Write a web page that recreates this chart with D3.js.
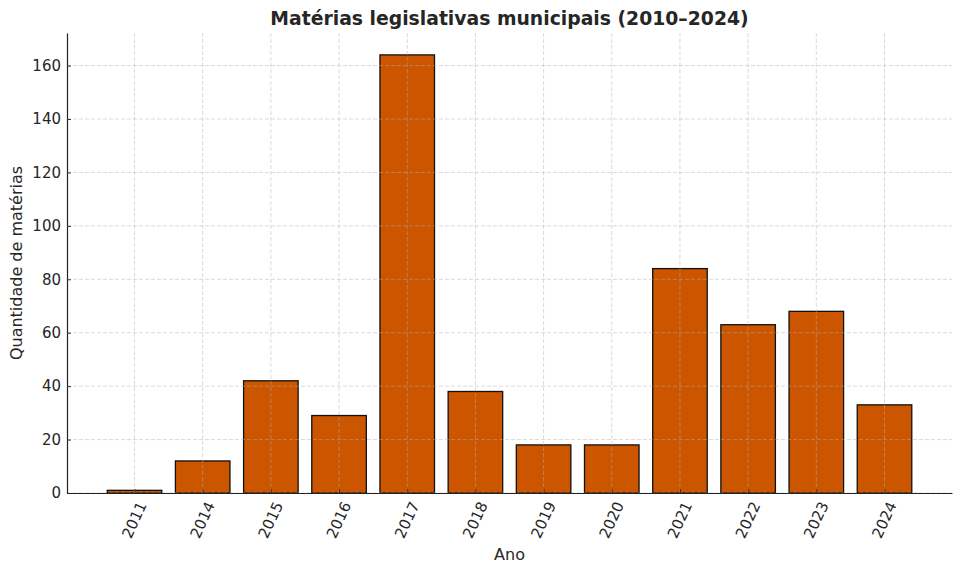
<!DOCTYPE html>
<html>
<head>
<meta charset="utf-8">
<script src="https://cdn.jsdelivr.net/npm/d3@7"></script>
<style>
  body { margin: 0; background: #fff; }
  text { font-family: "DejaVu Sans", sans-serif; fill: #262626; }
</style>
</head>
<body>
<svg id="chart" width="961" height="573"></svg>
<script>
// data
const anos = ['2011', '2014', '2015', '2016', '2017', '2018', '2019', '2020', '2021', '2022', '2023', '2024'];
const quantidades = [1, 12, 42, 29, 164, 38, 18, 18, 84, 63, 68, 33];
const yTicks = [0, 20, 40, 60, 80, 100, 120, 140, 160];

const W = 961, H = 573;
const m = {left: 67, right: 9, top: 33, bottom: 80};
const iw = W - m.left - m.right, ih = H - m.top - m.bottom;

const svg = d3.select('#chart');
const g = svg.append('g').attr('transform', `translate(${m.left},${m.top})`);

// matplotlib-ish: positions by index, 5% margins
const x = d3.scaleLinear().domain([-0.99, anos.length - 1 + 0.99]).range([0, iw]);
const y = d3.scaleLinear().domain([0, 172.2]).range([ih, 0]);
const bw = x(0.8) - x(0);

g.selectAll('rect.bar')
  .data(quantidades)
  .join('rect')
  .attr('class', 'bar')
  .attr('x', (d, i) => x(i) - bw / 2)
  .attr('y', d => y(d))
  .attr('width', bw)
  .attr('height', d => y(0) - y(d))
  .attr('fill', '#cc5500')
  .attr('stroke', '#111')
  .attr('stroke-width', 1.3);

// grid on top of the bars
const grid = g.append('g').attr('stroke', '#b0b0b0').attr('stroke-opacity', 0.6)
  .attr('stroke-dasharray', '4,2').attr('stroke-width', 0.8);
grid.selectAll('line.gy').data(yTicks).join('line')
  .attr('x1', 0).attr('x2', iw).attr('y1', d => y(d)).attr('y2', d => y(d));
grid.selectAll('line.gx').data(anos).join('line')
  .attr('x1', (d, i) => x(i)).attr('x2', (d, i) => x(i)).attr('y1', 0).attr('y2', ih);

// axes, ticks pointing inwards
const yAxis = g.append('g')
  .call(d3.axisLeft(y).tickValues(yTicks).tickSizeInner(-4).tickSizeOuter(0).tickPadding(6));
yAxis.select('.domain').attr('stroke', '#222').attr('stroke-width', 1.2);
yAxis.selectAll('.tick line').attr('stroke', '#333');
yAxis.selectAll('.tick text').attr('font-size', 15).attr('fill', '#262626')
  .attr('font-family', '"DejaVu Sans", sans-serif');

const xAxis = g.append('g').attr('transform', `translate(0,${ih})`)
  .call(d3.axisBottom(x).tickValues(d3.range(anos.length)).tickSizeInner(-4).tickSizeOuter(0).tickFormat(''));
xAxis.select('.domain').attr('stroke', '#222').attr('stroke-width', 1.2);
xAxis.selectAll('.tick line').attr('stroke', '#333');

g.append('g').selectAll('text').data(anos).join('text')
  .attr('transform', (d, i) => `translate(${x(i)},${ih + 27}) rotate(-65)`)
  .attr('text-anchor', 'middle')
  .attr('dominant-baseline', 'central')
  .attr('font-size', 15)
  .text(d => d);

// labels
svg.append('text')
  .attr('x', m.left + iw / 2).attr('y', 25)
  .attr('text-anchor', 'middle')
  .attr('font-size', 18.8).attr('font-weight', 'bold').attr('fill', '#333')
  .text('Matérias legislativas municipais (2010–2024)');

svg.append('text')
  .attr('x', m.left + iw / 2).attr('y', 560)
  .attr('text-anchor', 'middle').attr('font-size', 16)
  .text('Ano');

svg.append('text')
  .attr('transform', `translate(22,${m.top + ih / 2}) rotate(-90)`)
  .attr('text-anchor', 'middle').attr('font-size', 16)
  .text('Quantidade de matérias');
</script>
</body>
</html>
